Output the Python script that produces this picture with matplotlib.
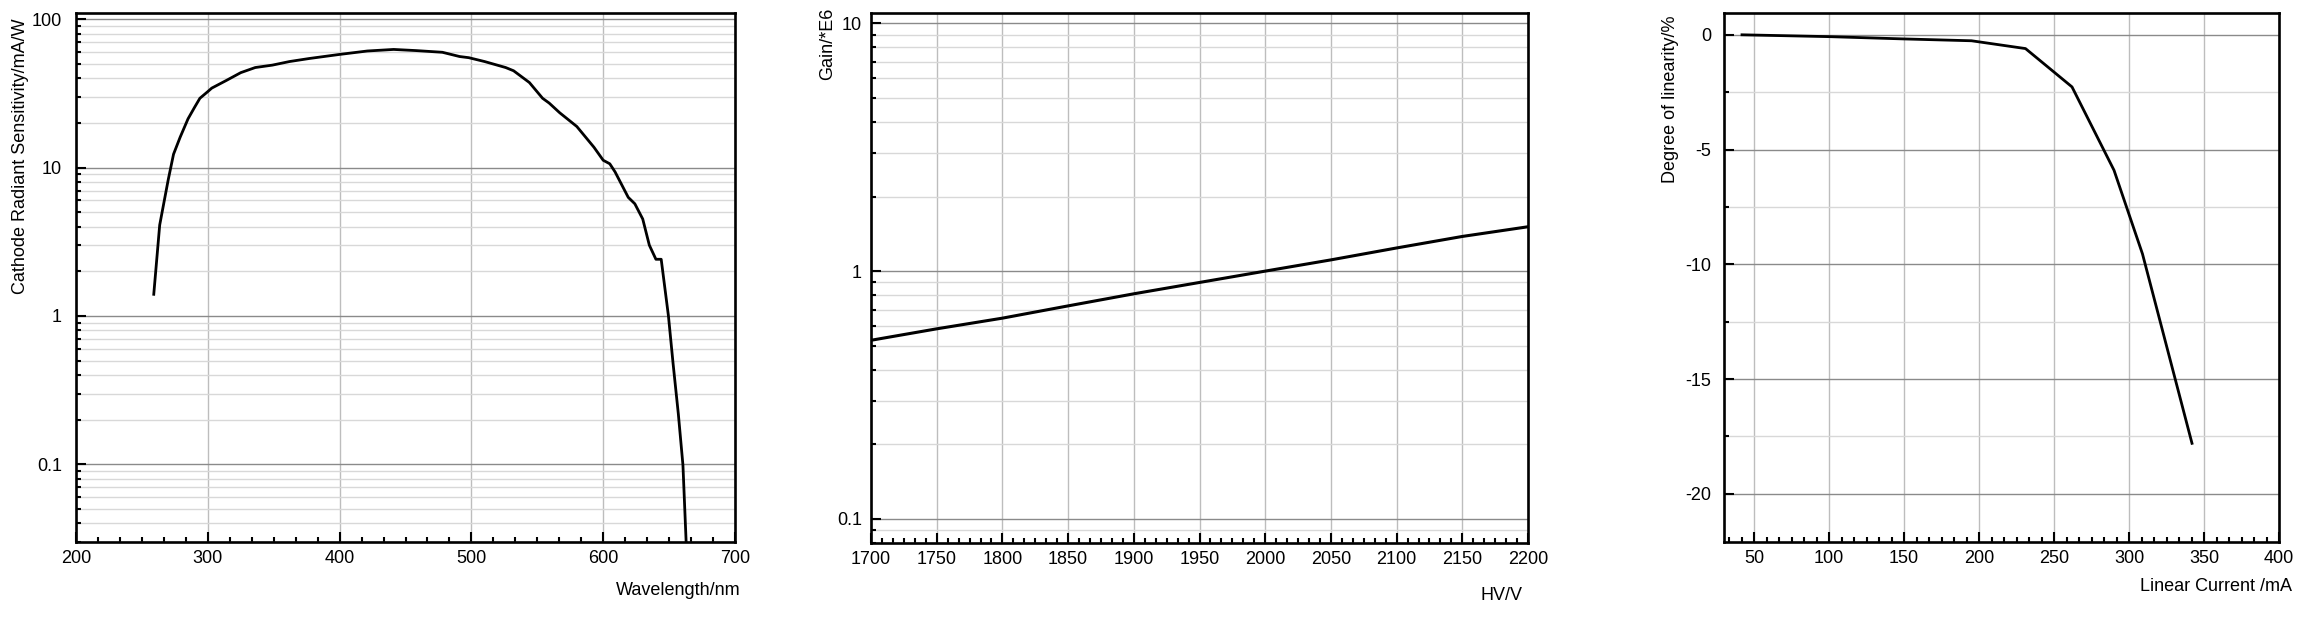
import matplotlib
matplotlib.use("Agg")
import matplotlib.pyplot as plt
from matplotlib.ticker import MultipleLocator, LogLocator, FixedLocator, NullFormatter, FuncFormatter

plt.rcParams['font.family'] = ['Liberation Sans', 'DejaVu Sans']
plt.rcParams['font.size'] = 13

# ---- data ----
wavelength = [259, 263.5, 267, 270, 274, 279, 285, 290, 294, 300, 303, 314, 325, 336, 349,
              362, 377, 399, 421, 441, 458, 478, 491, 498, 510, 526, 532, 544, 554, 559,
              567, 580, 593, 600, 605, 609, 619, 624, 630, 635, 640, 644, 649.5, 653, 657,
              660.5, 663]
sensitivity = [1.4, 4.1, 6.0, 8.3, 12.3, 16.0, 21.3, 25.5, 29.3, 32.5, 34.3, 38.6, 43.6, 47.2, 49.0,
               51.8, 54.3, 57.7, 61.0, 62.5, 61.4, 59.8, 56.0, 55.0, 51.8, 47.2, 44.9, 37.4, 29.3, 27.2,
               23.4, 18.9, 13.7, 11.2, 10.6, 9.35, 6.3, 5.7, 4.5, 3.0, 2.41, 2.41, 1.0, 0.48, 0.219,
               0.099, 0.029]

hv = [1700, 1750, 1800, 1850, 1900, 1950, 2000, 2050, 2100, 2150, 2200]
gain = [0.526, 0.585, 0.646, 0.724, 0.81, 0.90, 1.0, 1.11, 1.24, 1.38, 1.51]

current = [42, 100, 150, 195, 231, 262, 290, 309, 342]
linearity = [0.0, -0.08, -0.18, -0.26, -0.6, -2.27, -5.9, -9.55, -17.8]

x1_ticks = [200, 300, 400, 500, 600, 700]
y1_ticks = [0.1, 1, 10, 100]
x2_ticks = [1700, 1750, 1800, 1850, 1900, 1950, 2000, 2050, 2100, 2150, 2200]
y2_ticks = [0.1, 1, 10]
x3_ticks = [50, 100, 150, 200, 250, 300, 350, 400]
y3_ticks = [-20, -15, -10, -5, 0]

W, H = 2317, 619
fig = plt.figure(figsize=(W / 100, H / 100), dpi=100)


def px_axes(l, t, r, b):
    return fig.add_axes([l / W, (H - b) / H, (r - l) / W, (b - t) / H])


ax1 = px_axes(76, 13, 735, 542)
ax2 = px_axes(871, 13, 1528, 543)
ax3 = px_axes(1724, 13, 2279, 542)

MAJ_GRID = '#8a8a8a'
MIN_GRID = '#d8d8d8'
X_GRID = '#bdbdbd'


def style(ax, ypad):
    for s in ax.spines.values():
        s.set_linewidth(1.9)
        s.set_color('black')
        s.set_zorder(5)
    ax.tick_params(which='major', direction='in', length=7.5, width=1.5, color='black',
                   top=False, right=False)
    ax.tick_params(which='minor', direction='in', length=3.8, width=1.5, color='black',
                   top=False, right=False)
    ax.tick_params(axis='x', which='both', pad=5.5)
    ax.tick_params(axis='y', which='both', pad=ypad)
    ax.set_axisbelow(True)


fmt = FuncFormatter(lambda v, p: ('%g' % v))

# ---- Panel 1 ----
ax1.plot(wavelength, sensitivity, color='black', lw=2.0, zorder=3)
ax1.set_yscale('log')
ax1.set_xlim(200, 700)
ax1.set_ylim(0.03, 110)
ax1.xaxis.set_major_locator(FixedLocator(x1_ticks))
ax1.xaxis.set_minor_locator(MultipleLocator(100 / 6))
ax1.yaxis.set_major_locator(FixedLocator(y1_ticks))
ax1.yaxis.set_major_formatter(fmt)
ax1.yaxis.set_minor_locator(LogLocator(base=10, subs=range(2, 10), numticks=20))
ax1.yaxis.set_minor_formatter(NullFormatter())
ax1.grid(axis='x', which='major', color=X_GRID, lw=1)
ax1.grid(axis='y', which='major', color=MAJ_GRID, lw=1)
ax1.grid(axis='y', which='minor', color=MIN_GRID, lw=1)
style(ax1, 10)
ax1.set_ylabel('Cathode Radiant Sensitivity/mA/W', loc='top')
ax1.yaxis.set_label_coords(-0.071, 0.99)
ax1.set_xlabel('Wavelength/nm', loc='right')
ax1.xaxis.set_label_coords(1.009, -0.075)

# ---- Panel 2 ----
ax2.plot(hv, gain, color='black', lw=2.2, zorder=3)
ax2.set_yscale('log')
ax2.set_xlim(1700, 2200)
ax2.set_ylim(0.08, 11)
ax2.xaxis.set_major_locator(FixedLocator(x2_ticks))
ax2.xaxis.set_minor_locator(MultipleLocator(50 / 6))
ax2.yaxis.set_major_locator(FixedLocator(y2_ticks))
ax2.yaxis.set_major_formatter(fmt)
ax2.yaxis.set_minor_locator(LogLocator(base=10, subs=range(2, 10), numticks=20))
ax2.yaxis.set_minor_formatter(NullFormatter())
ax2.grid(axis='x', which='major', color=X_GRID, lw=1)
ax2.grid(axis='y', which='major', color=MAJ_GRID, lw=1)
ax2.grid(axis='y', which='minor', color=MIN_GRID, lw=1)
style(ax2, 6.5)
ax2.set_ylabel('Gain/*E6', loc='top')
ax2.yaxis.set_label_coords(-0.053, 1.01)
ax2.set_xlabel('HV/V', loc='right')
ax2.xaxis.set_label_coords(0.992, -0.083)

# ---- Panel 3 ----
ax3.plot(current, linearity, color='black', lw=2.0, zorder=3)
ax3.set_xlim(30, 400)
ax3.set_ylim(-22.1, 0.95)
ax3.xaxis.set_major_locator(FixedLocator(x3_ticks))
ax3.xaxis.set_minor_locator(MultipleLocator(50 / 6))
ax3.yaxis.set_major_locator(FixedLocator(y3_ticks))
ax3.yaxis.set_minor_locator(MultipleLocator(2.5))
ax3.yaxis.set_major_formatter(fmt)
ax3.grid(axis='x', which='major', color=X_GRID, lw=1)
ax3.grid(axis='y', which='major', color=MAJ_GRID, lw=1)
ax3.grid(axis='y', which='minor', color=MIN_GRID, lw=1)
style(ax3, 9)
ax3.set_ylabel('Degree of linearity/%', loc='top')
ax3.yaxis.set_label_coords(-0.081, 0.996)
ax3.set_xlabel('Linear Current /mA', loc='right')
ax3.xaxis.set_label_coords(1.023, -0.068)

fig.savefig('out.png', dpi=100)
